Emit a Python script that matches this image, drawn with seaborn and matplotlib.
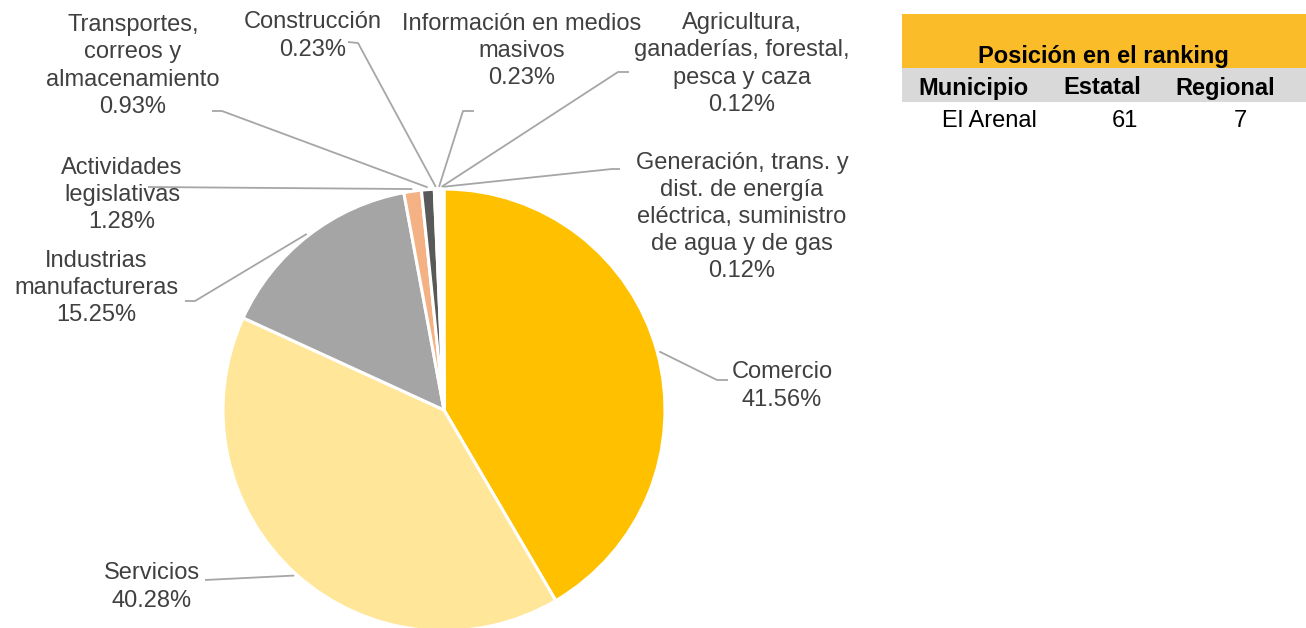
import matplotlib
matplotlib.use("Agg")
import matplotlib.pyplot as plt
import seaborn as sns
import numpy as np
from matplotlib.patches import Rectangle

# ---- data ----
sectors = [
    "Comercio",
    "Servicios",
    "Industrias\nmanufactureras",
    "Actividades\nlegislativas",
    "Transportes,\ncorreos y\nalmacenamiento",
    "Construcción",
    "Información en medios\nmasivos",
    "Agricultura,\nganaderías, forestal,\npesca y caza",
    "Generación, trans. y\ndist. de energía\neléctrica, suministro\nde agua y de gas",
]
shares = [41.56, 40.28, 15.25, 1.28, 0.93, 0.23, 0.23, 0.12, 0.12]
slice_colors = ["#FFC000", "#FFE699", "#A5A5A5", "#F4B183", "#595959",
                "#FFFFFF", "#FFFFFF", "#FFFFFF", "#FFFFFF"]

table_title = "Posición en el ranking"
table_headers = ["Municipio", "Estatal", "Regional"]
table_row = ["El Arenal", "61", "7"]

# ---- layout (pixels) ----
W, H = 1306, 628
CX, CY, R = 444, 410, 221
# label block centre, elbow point, end point (pixels)
label_layout = [
    ((782, 386), (717, 380), (728, 380)),
    ((152, 587), None, (205, 580)),
    ((96, 288), (195, 301), (185, 301)),
    ((122, 195), None, (148, 187)),
    ((133, 66), (222, 111), (212, 111)),
    ((313, 36), (358, 43), (348, 42)),
    ((522, 51), (463, 111), (474, 111)),
    ((742, 64), (618, 72), (629, 72)),
    ((742, 217), (612, 169), (620, 169)),
]

sns.set_theme(style="white")
plt.rcParams["font.family"] = ["Liberation Sans", "DejaVu Sans"]

fig = plt.figure(figsize=(W / 100, H / 100), dpi=100)
fig.patch.set_facecolor("white")

ax = fig.add_axes([(CX - R) / W, (H - CY - R) / H, 2 * R / W, 2 * R / H])
palette = sns.color_palette(slice_colors)
wedges, _ = ax.pie(shares, colors=palette, startangle=90, counterclock=False,
                   radius=1.0, wedgeprops=dict(edgecolor="white", linewidth=2.2))
ax.set_xlim(-1, 1)
ax.set_ylim(-1, 1)
ax.axis("off")


def px2d(p):
    return ((p[0] - CX) / R, (CY - p[1]) / R)


TEXT_COLOR = "#404040"
LINE_COLOR = "#A6A6A6"
for name, val, w, (tc, elbow, end) in zip(sectors, shares, wedges, label_layout):
    mid = np.deg2rad((w.theta1 + w.theta2) / 2)
    start = (1.01 * np.cos(mid), 1.01 * np.sin(mid))
    pts = [start]
    if elbow is not None:
        pts.append(px2d(elbow))
    pts.append(px2d(end))
    xs, ys = zip(*pts)
    ax.plot(xs, ys, color=LINE_COLOR, lw=1.3, clip_on=False, solid_capstyle="butt")
    tx, ty = px2d(tc)
    ax.text(tx, ty, f"{name}\n{val:.2f}%", ha="center", va="center",
            fontsize=17, color=TEXT_COLOR, linespacing=1.3, clip_on=False)

# ---- ranking table ----
def fx(x):
    return x / W


def fy(y):
    return 1 - y / H


fig.add_artist(Rectangle((fx(902), fy(68)), fx(1306) - fx(902), fy(14) - fy(68),
                         transform=fig.transFigure, facecolor="#FBBC2A", edgecolor="none"))
fig.add_artist(Rectangle((fx(902), fy(102)), fx(1306) - fx(902), fy(68) - fy(102),
                         transform=fig.transFigure, facecolor="#D9D9D9", edgecolor="none"))
fig.text(fx(1103), fy(56), table_title, ha="center", va="center",
         fontsize=17, fontweight="bold", color="black")
for txt, x in zip(table_headers, [973, 1102, 1225]):
    fig.text(fx(x), fy(88), txt, ha="center", va="center",
             fontsize=17, fontweight="bold", color="black")
for txt, x in zip(table_row, [989, 1125, 1240]):
    fig.text(fx(x), fy(121), txt, ha="center", va="center",
             fontsize=17, color="black")

fig.savefig("out.png", dpi=100, facecolor="white")
